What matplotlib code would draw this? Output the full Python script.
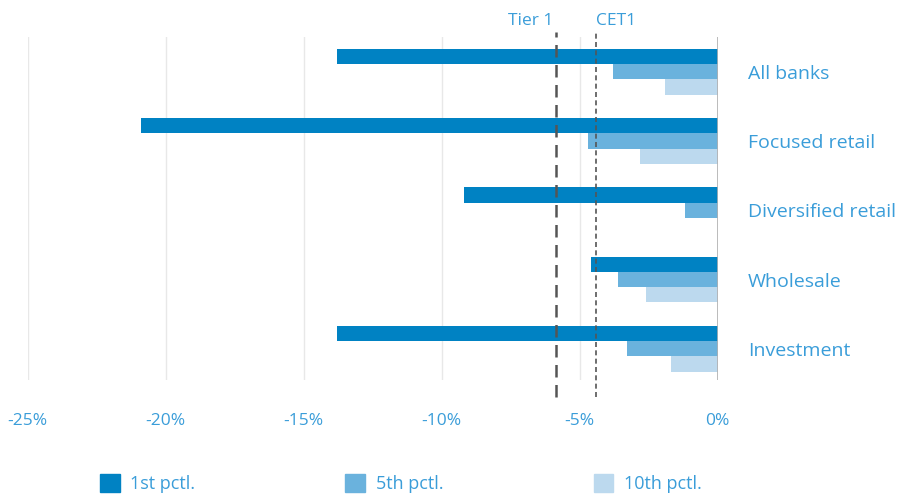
import matplotlib.pyplot as plt
from matplotlib.patches import Patch

plt.rcParams['font.family'] = ['Open Sans', 'DejaVu Sans']

# data (% change)
categories = ['All banks', 'Focused retail', 'Diversified retail', 'Wholesale', 'Investment']
p1 = [-13.8, -20.9, -9.2, -4.6, -13.8]
p5 = [-3.8, -4.7, -1.2, -3.6, -3.3]
p10 = [-1.9, -2.8, 0.0, -2.6, -1.7]
series_names = ['1st pctl.', '5th pctl.', '10th pctl.']
tier1 = -5.85
cet1 = -4.4
xticks = [-25, -20, -15, -10, -5, 0]

c1 = '#0082c3'
c5 = '#6ab2dd'
c10 = '#bcd9ee'
txt = '#3a9dd9'

fig = plt.figure(figsize=(8.99, 4.97), dpi=100)
ax = fig.add_axes([0.0308, 0.2354, 0.7675, 0.690])

h = 0.22
for i, cat in enumerate(categories):
    ax.barh(i - h, p1[i], height=h, color=c1, linewidth=0)
    ax.barh(i, p5[i], height=h, color=c5, linewidth=0)
    ax.barh(i + h, p10[i], height=h, color=c10, linewidth=0)
    ax.text(1.044, i + 0.03, cat, transform=ax.get_yaxis_transform(), ha='left', va='center',
            color=txt, fontsize=14)

ax.set_xlim(-25, 0)
ax.set_ylim(4.45, -0.5)
ax.set_xticks(xticks)
ax.set_xticklabels(['%d%%' % t for t in xticks], color=txt, fontsize=12.5)
ax.tick_params(axis='x', length=0, pad=24)
ax.set_yticks([])
for s in ax.spines.values():
    s.set_visible(False)
ax.grid(axis='x', color='#e8e8e8', linewidth=1)
ax.set_axisbelow(True)
ax.axvline(0, color='#b0b0b0', linewidth=1.2)

ax.axvline(tier1, ymin=-0.05, ymax=1.015, color='#555555', linestyle=(0, (5, 3)),
           linewidth=1.8, clip_on=False)
ax.axvline(cet1, ymin=-0.05, ymax=1.015, color='#555555', linestyle=(0, (3, 2)),
           linewidth=1.2, clip_on=False)
ax.text(tier1 - 0.1, 1.025, 'Tier 1', transform=ax.get_xaxis_transform(), ha='right',
        va='bottom', color=txt, fontsize=12.5)
ax.text(cet1 + 0.0, 1.025, 'CET1', transform=ax.get_xaxis_transform(), ha='left',
        va='bottom', color=txt, fontsize=12.5)

handles = [Patch(color=c) for c in (c1, c5, c10)]
leg = fig.legend(handles, series_names, loc='center', bbox_to_anchor=(0.446, 0.027), ncol=3,
                 frameon=False, fontsize=13, handlelength=1.1, handleheight=1.1,
                 columnspacing=8.3, handletextpad=0.6)
for t in leg.get_texts():
    t.set_color(txt)

fig.savefig('out.png', dpi=100)
